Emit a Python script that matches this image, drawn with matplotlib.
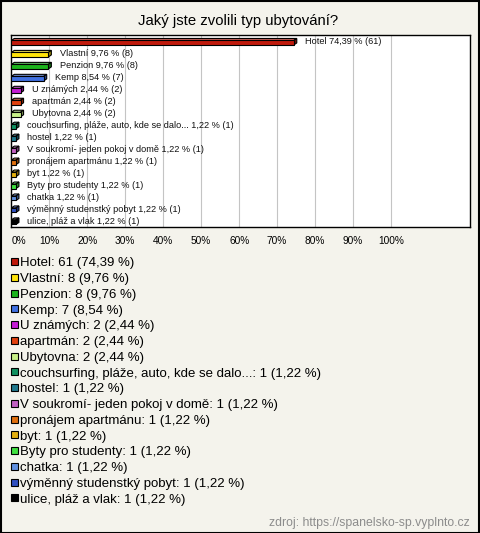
import matplotlib
matplotlib.use("Agg")
import matplotlib.pyplot as plt
from matplotlib.patches import Polygon, Rectangle
from matplotlib import colors as mcolors

plt.rcParams['font.family'] = ['Liberation Sans', 'DejaVu Sans']

title = "Jaký jste zvolili typ ubytování?"
categories = ["Hotel", "Vlastní", "Penzion", "Kemp", "U známých", "apartmán", "Ubytovna",
              "couchsurfing, pláže, auto, kde se dalo...", "hostel",
              "V soukromí- jeden pokoj v domě", "pronájem apartmánu", "byt",
              "Byty pro studenty", "chatka", "výměnný studenstký pobyt", "ulice, pláž a vlak"]
counts = [61, 8, 8, 7, 2, 2, 2, 1, 1, 1, 1, 1, 1, 1, 1, 1]
total = 82
bar_colors = ["#c01a0c", "#ffe40a", "#1cb41c", "#4070e0", "#c41cd4", "#e0400e", "#c8f088",
              "#109060", "#20788c", "#c060c0", "#e0700e", "#e4b010", "#40e040",
              "#6090e0", "#3050c0", "#000000"]
xtick_values = [0, 10, 20, 30, 40, 50, 60, 70, 80, 90, 100]
source = "zdroj: https://spanelsko-sp.vyplnto.cz"

def fmt(p):
    return f"{p:.2f}".replace(".", ",")

percents = [c / total * 100 for c in counts]

W, H = 480, 533
bg = "#f4f3ec"
fig = plt.figure(figsize=(W / 100, H / 100), dpi=100, facecolor=bg)

ax_l, ax_r, ax_t, ax_b = 11.3, 470, 35, 227.5
ax = fig.add_axes([ax_l / W, 1 - ax_b / H, (ax_r - ax_l) / W, (ax_b - ax_t) / H])
ax.set_facecolor("white")
xmax = 120.8
ax.set_xlim(0, xmax)
n = len(categories)
ax.set_ylim(n - 1 + 0.53, -0.56)

px_x = (ax_r - ax_l) / xmax           # pixels per % unit
px_y = (ax_b - ax_t) / (n - 1 + 0.53 + 0.56)  # pixels per category unit

dx = 3.0 / px_x
dy = 2.0 / px_y
hf = 4.5 / px_y

for i, (p, c) in enumerate(zip(percents, bar_colors)):
    y0 = i + (hf + dy) / 2 - hf  # top of front face
    y1 = y0 + hf                 # bottom of front face
    base = mcolors.to_rgb(c)
    light = tuple(min(1, v + (1 - v) * 0.35) for v in base)
    dark = tuple(v * 0.6 for v in base)
    # top face
    ax.add_patch(Polygon([(0, y0), (p, y0), (p + dx, y0 - dy), (dx, y0 - dy)],
                         closed=True, facecolor=light, edgecolor="black", lw=0.8, zorder=3))
    # right face
    ax.add_patch(Polygon([(p, y0), (p + dx, y0 - dy), (p + dx, y1 - dy), (p, y1)],
                         closed=True, facecolor=dark, edgecolor="black", lw=0.8, zorder=3))
    # front face
    ax.add_patch(Rectangle((0, y0), p, hf, facecolor=c, edgecolor="black", lw=0.8, zorder=4))
    ax.annotate(f"{categories[i]} {fmt(p)} % ({counts[i]})", xy=(p + dx, i),
                xytext=(6, 0), textcoords="offset points", va="center", ha="left",
                fontsize=6.6, color="#111111", zorder=5)

ax.set_xticks(xtick_values)
labels = [f"{v}%" for v in xtick_values]
ax.set_xticklabels(labels, fontsize=7.3)
ax.get_xticklabels()[0].set_ha("left")
ax.tick_params(axis="x", length=0, pad=6)
ax.set_yticks([])
ax.grid(axis="x", color="#c4c4c4", lw=0.8, zorder=0)
ax.set_axisbelow(True)
for s in ax.spines.values():
    s.set_color("black")
    s.set_linewidth(1.0)

fig.text(238 / W, 1 - 20.7 / H, title, ha="center", va="center", fontsize=10.7)

# legend
for i, (cat, cnt, p, c) in enumerate(zip(categories, counts, percents, bar_colors)):
    yc = 261.7 + 15.75 * i
    fig.patches.append(Rectangle((10.5 / W, 1 - (yc + 3.5) / H), 7 / W, 7 / H,
                                 transform=fig.transFigure, facecolor=c,
                                 edgecolor="black", lw=0.8))
    fig.text(20 / W, 1 - (yc + 4.7) / H, f"{cat}: {cnt} ({fmt(p)} %)", ha="left",
             va="baseline", fontsize=9.5, color="black")

fig.text(470 / W, 1 - 526 / H, source, ha="right", va="baseline", fontsize=8.8, color="#8c8c8c")

fig.patches.append(Rectangle((0.5 / W, 0.5 / H), (W - 1.5) / W, (H - 1.5) / H,
                             transform=fig.transFigure, fill=False, edgecolor="black", lw=1.5))

fig.savefig("out.png", dpi=100, facecolor=bg)
